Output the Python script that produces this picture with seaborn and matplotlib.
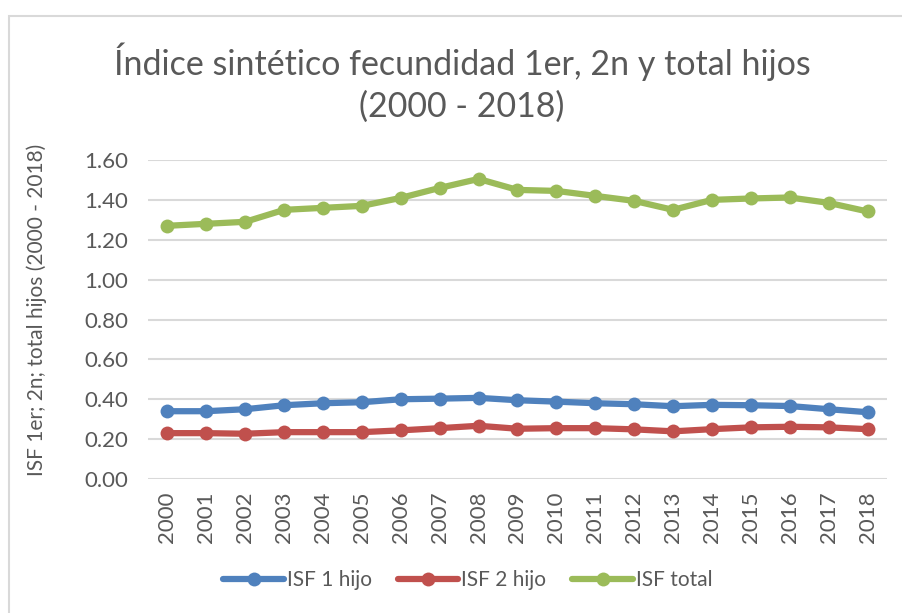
import matplotlib
matplotlib.use("Agg")
import matplotlib.pyplot as plt
import seaborn as sns
import pandas as pd
from matplotlib.patches import Rectangle
from matplotlib.lines import Line2D

years = [str(y) for y in range(2000, 2019)]
isf_1_hijo = [0.34, 0.34, 0.35, 0.37, 0.38, 0.385, 0.40, 0.403, 0.407, 0.395, 0.388,
              0.38, 0.375, 0.365, 0.372, 0.37, 0.366, 0.35, 0.335]
isf_2_hijo = [0.23, 0.23, 0.227, 0.235, 0.235, 0.235, 0.244, 0.255, 0.267, 0.252, 0.255,
              0.255, 0.249, 0.239, 0.25, 0.259, 0.262, 0.259, 0.25]
isf_total = [1.27, 1.28, 1.29, 1.35, 1.36, 1.37, 1.41, 1.46, 1.505, 1.45, 1.445,
             1.42, 1.395, 1.35, 1.40, 1.407, 1.412, 1.385, 1.342]
series_names = ["ISF 1 hijo", "ISF 2 hijo", "ISF total"]
colors = ["#4F81BD", "#C0504D", "#9BBB59"]
y_ticks = [0.0, 0.2, 0.4, 0.6, 0.8, 1.0, 1.2, 1.4, 1.6]

rows = []
for name, vals in zip(series_names, [isf_1_hijo, isf_2_hijo, isf_total]):
    for i, v in enumerate(vals):
        rows.append({"idx": i, "year": years[i], "value": v, "serie": name})
df = pd.DataFrame(rows)

sns.set_theme(style="white")
plt.rcParams["font.family"] = ["Lato", "DejaVu Sans"]
text_color = "#595959"

fig = plt.figure(figsize=(9.03, 6.13), dpi=100)
W, H = 903, 613
ax = fig.add_axes([148 / W, (H - 479) / H, (887 - 148) / W, (479 - 160) / H])

# chart border
fig.patches.append(Rectangle((9 / W, -0.1), 1.2, (H - 16) / H + 0.1, transform=fig.transFigure,
                             fill=False, edgecolor="#D9D9D9", linewidth=1.5))

sns.lineplot(data=df, x="idx", y="value", hue="serie", palette=colors,
             marker="o", markersize=10, markeredgewidth=0, linewidth=4.5,
             ax=ax, legend=False, zorder=3)

ax.set_xlim(-0.5, len(years) - 0.5)
ax.set_ylim(0, 1.6)
ax.set_yticks(y_ticks)
ax.set_yticklabels([f"{t:.2f}" for t in y_ticks], fontsize=16, color=text_color)
ax.set_xticks(range(len(years)))
ax.set_xticklabels(years, rotation=90, fontsize=16, color=text_color)
ax.tick_params(axis="x", length=0, pad=9)
ax.tick_params(axis="y", length=0, pad=14)
for s in ax.spines.values():
    s.set_visible(False)
ax.grid(axis="y", color="#D9D9D9", linewidth=1.5)
ax.set_axisbelow(True)
ax.set_xlabel("")
ax.set_ylabel("ISF 1er; 2n; total hijos (2000 - 2018)", fontsize=15, color=text_color)
ax.yaxis.set_label_coords(-0.137, 0.53)

fig.text(462 / W, 0.865, "Índice sintético fecundidad 1er, 2n y total hijos\n(2000 - 2018)",
         ha="center", va="center", fontsize=24.5, color=text_color, linespacing=1.35)

handles = [Line2D([0], [0], color=c, linewidth=4.5, marker="o", markersize=10, markeredgewidth=0)
           for c in colors]
fig.legend(handles, series_names, loc="center", bbox_to_anchor=(468 / W, (H - 580) / H), ncol=3,
           frameon=False, fontsize=15, labelcolor=text_color, handlelength=2.9,
           columnspacing=1.25, handletextpad=0.15)

fig.savefig("out.png", dpi=100)
